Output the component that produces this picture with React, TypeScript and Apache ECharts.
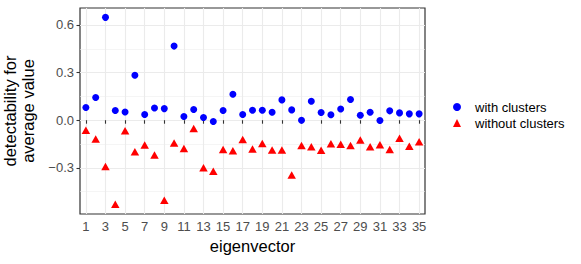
import React, { useEffect, useRef } from "react";
import * as echarts from "echarts";

const eigenvectors = [
  1, 2, 3, 4, 5, 6, 7, 8, 9, 10, 11, 12, 13, 14, 15, 16, 17, 18, 19, 20,
  21, 22, 23, 24, 25, 26, 27, 28, 29, 30, 31, 32, 33, 34, 35,
];
const withClusters = [
  0.08, 0.143, 0.648, 0.061, 0.052, 0.283, 0.036, 0.077, 0.073, 0.467,
  0.023, 0.067, 0.017, -0.008, 0.061, 0.164, 0.036, 0.063, 0.063, 0.05,
  0.128, 0.065, 0.0, 0.119, 0.048, 0.034, 0.071, 0.13, 0.031, 0.05,
  -0.002, 0.059, 0.046, 0.04, 0.04,
];
const withoutClusters = [
  -0.063, -0.119, -0.291, -0.53, -0.067, -0.199, -0.157, -0.22, -0.505, -0.143,
  -0.178, -0.052, -0.3, -0.321, -0.184, -0.193, -0.121, -0.182, -0.147, -0.187,
  -0.187, -0.346, -0.159, -0.168, -0.189, -0.149, -0.151, -0.159, -0.124, -0.168,
  -0.155, -0.184, -0.113, -0.164, -0.136,
];
const xBreaks = [1, 3, 5, 7, 9, 11, 13, 15, 17, 19, 21, 23, 25, 27, 29, 31, 33, 35];
const yBreaks = [-0.3, 0, 0.3, 0.6];
const yMinorBreaks = [-0.45, -0.15, 0.15, 0.45];
const seriesNames = ["with clusters", "without clusters"];

const FONT = "Liberation Sans, Arial, Helvetica, sans-serif";
const Y_MIN = -0.591;
const Y_MAX = 0.707;

export default function App() {
  const ref = useRef<HTMLDivElement>(null);
  useEffect(() => {
    document.body.style.margin = "0";
    if (!ref.current) return;
    const chart = echarts.init(ref.current, null, { renderer: "svg" });
    const fmtY = (v: number) => {
      const s = Math.abs(v).toFixed(1);
      return v < -1e-9 ? "\u2212" + s : s;
    };
    chart.setOption({
      animation: false,
      textStyle: { fontFamily: FONT },
      grid: {
        left: 80,
        right: 156,
        top: 8,
        bottom: 50,
        containLabel: false,
        outerBoundsMode: "none",
        show: true,
        borderColor: "#333333",
        borderWidth: 1.2,
        backgroundColor: "#ffffff",
      },
      legend: {
        orient: "vertical",
        left: 453,
        top: 99,
        padding: 0,
        itemGap: 0,
        itemWidth: 8,
        itemHeight: 8,
        selectedMode: false,
        data: seriesNames,
        textStyle: {
          fontFamily: FONT,
          fontSize: 13,
          color: "#000000",
          lineHeight: 16,
          padding: [0, 0, 0, 9],
        },
      },
      xAxis: {
        type: "value",
        min: 0.4,
        max: 35.6,
        name: "eigenvector",
        nameLocation: "middle",
        nameGap: 22,
        nameTextStyle: { fontFamily: FONT, fontSize: 16.5, color: "#000000" },
        axisLine: { show: false },
        axisTick: {
          show: true,
          length: 3.5,
          customValues: xBreaks,
          lineStyle: { color: "#333333", width: 1.1 },
        },
        axisLabel: {
          customValues: xBreaks,
          margin: 6,
          hideOverlap: false,
          fontFamily: FONT,
          fontSize: 13,
          color: "#4D4D4D",
        },
        splitLine: { show: true, lineStyle: { color: "#EBEBEB", width: 1.1 } },
      },
      yAxis: [
        {
          type: "value",
          min: Y_MIN,
          max: Y_MAX,
          name: "detectability for\naverage value",
          nameLocation: "middle",
          nameRotate: 90,
          nameGap: 36,
          nameTextStyle: {
            fontFamily: FONT,
            fontSize: 16.5,
            color: "#000000",
            lineHeight: 18,
            align: "center",
          },
          axisLine: { show: false },
          axisTick: {
            show: true,
            length: 3.5,
            customValues: yBreaks,
            lineStyle: { color: "#333333", width: 1.1 },
          },
          axisLabel: {
            customValues: yBreaks,
            margin: 6,
            fontFamily: FONT,
            fontSize: 13,
            color: "#4D4D4D",
            formatter: fmtY,
          },
          splitLine: { show: true, lineStyle: { color: "#EBEBEB", width: 1.1 } },
        },
        {
          type: "value",
          min: Y_MIN,
          max: Y_MAX,
          position: "left",
          axisLine: { show: false },
          axisTick: { show: false, customValues: yMinorBreaks },
          axisLabel: { show: false, customValues: yMinorBreaks },
          splitLine: { show: true, lineStyle: { color: "#EFEFEF", width: 0.6 } },
        },
      ],
      series: [
        {
          name: seriesNames[0],
          type: "scatter",
          symbol: "circle",
          symbolSize: 7,
          silent: true,
          itemStyle: { color: "#0000FF", opacity: 1 },
          emphasis: { disabled: true },
          data: eigenvectors.map((e, i) => [e, withClusters[i]]),
          z: 3,
        },
        {
          name: seriesNames[1],
          type: "scatter",
          symbol: "triangle",
          symbolSize: [8.5, 7.5],
          silent: true,
          itemStyle: { color: "#FF0000", opacity: 1 },
          emphasis: { disabled: true },
          data: eigenvectors.map((e, i) => [e, withoutClusters[i]]),
          z: 3,
        },
      ],
    });
    return () => chart.dispose();
  }, []);
  return <div ref={ref} style={{ width: 581, height: 264 }} />;
}
